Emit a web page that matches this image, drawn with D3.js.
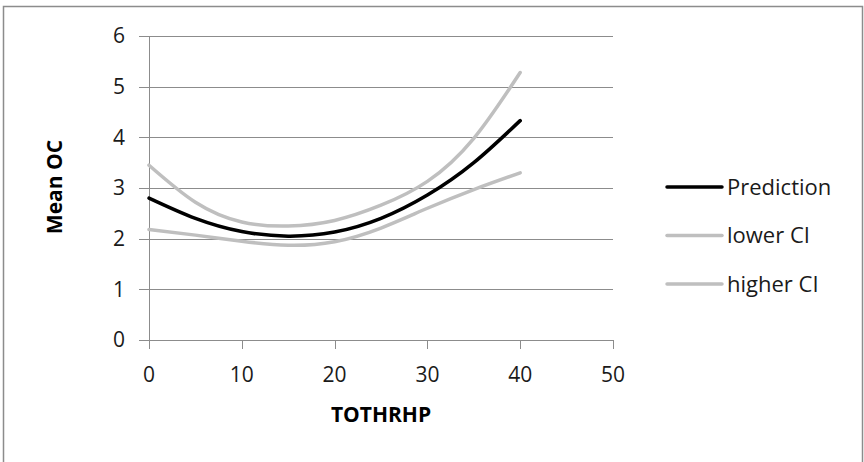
<!DOCTYPE html>
<html>
<head>
<meta charset="utf-8">
<script src="https://cdn.jsdelivr.net/npm/d3@7"></script>
<style>
  html, body { margin: 0; padding: 0; background: #fff; }
  svg { display: block; font-family: "Open Sans", Lato, sans-serif; }
</style>
</head>
<body>
<svg id="chart"></svg>
<script>
// x values (TOTHRHP) at which the curves were read
const xValues = [0, 5, 10, 15, 20, 25, 30, 35, 40];
// series
const prediction = [2.80, 2.40, 2.14, 2.05, 2.13, 2.40, 2.86, 3.50, 4.33];
const lowerCI = [2.18, 2.07, 1.95, 1.87, 1.94, 2.21, 2.60, 2.97, 3.30];
const higherCI = [3.45, 2.72, 2.33, 2.25, 2.36, 2.66, 3.13, 3.98, 5.28];
const seriesNames = ["Prediction", "lower CI", "higher CI"];
const xTicks = [0, 10, 20, 30, 40, 50];
const yTicks = [0, 1, 2, 3, 4, 5, 6];

const svgWidth = 864;
const svgHeight = 462;
const margin = { top: 36, right: 251, bottom: 122, left: 149 };

const series = [
    { name: seriesNames[0], values: prediction, color: "#000000" },
    { name: seriesNames[1], values: lowerCI, color: "#bfbfbf" },
    { name: seriesNames[2], values: higherCI, color: "#bfbfbf" }
];

let svg = d3.select("#chart")
    .attr("width", svgWidth)
    .attr("height", svgHeight);

// outer chart border
svg.append("rect")
    .attr("x", 3.5).attr("y", 6.5)
    .attr("width", 859).attr("height", 470)
    .attr("fill", "#fff")
    .attr("stroke", "#8c8c8c")
    .attr("stroke-width", 1.5);

let scaleX = d3.scaleLinear()
    .domain([0, 50])
    .range([margin.left, svgWidth - margin.right]);

let scaleY = d3.scaleLinear()
    .domain([0, 6])
    .range([svgHeight - margin.bottom, margin.top]);

// horizontal gridlines
svg.append("g")
    .selectAll("line")
    .data(yTicks)
    .enter()
    .append("line")
    .attr("x1", scaleX(0) - 10)
    .attr("x2", scaleX(50))
    .attr("y1", d => Math.round(scaleY(d)) + 0.5)
    .attr("y2", d => Math.round(scaleY(d)) + 0.5)
    .attr("stroke", "#8c8c8c")
    .attr("stroke-width", 1);

// y axis line
svg.append("line")
    .attr("x1", scaleX(0) + 0.5).attr("x2", scaleX(0) + 0.5)
    .attr("y1", scaleY(6)).attr("y2", scaleY(0) + 9)
    .attr("stroke", "#8c8c8c");

// x tick marks
svg.append("g")
    .selectAll("line")
    .data(xTicks)
    .enter()
    .append("line")
    .attr("x1", d => Math.round(scaleX(d)) + 0.5)
    .attr("x2", d => Math.round(scaleX(d)) + 0.5)
    .attr("y1", scaleY(0))
    .attr("y2", scaleY(0) + 9)
    .attr("stroke", "#8c8c8c");

// y tick labels
svg.append("g")
    .selectAll("text")
    .data(yTicks)
    .enter()
    .append("text")
    .attr("x", scaleX(0) - 24)
    .attr("y", d => scaleY(d))
    .attr("dy", "0.35em")
    .attr("text-anchor", "end")
    .attr("font-size", 21)
    .attr("fill", "#1a1a1a")
    .text(d => d);

// x tick labels
svg.append("g")
    .selectAll("text")
    .data(xTicks)
    .enter()
    .append("text")
    .attr("x", d => scaleX(d))
    .attr("y", scaleY(0) + 35)
    .attr("dy", "0.35em")
    .attr("text-anchor", "middle")
    .attr("font-size", 21)
    .attr("fill", "#1a1a1a")
    .text(d => d);

// axis titles
svg.append("text")
    .attr("x", 381)
    .attr("y", 415)
    .attr("dy", "0.35em")
    .attr("text-anchor", "middle")
    .attr("font-size", 21)
    .attr("font-weight", "bold")
    .text("TOTHRHP");

svg.append("text")
    .attr("transform", "translate(55,187) rotate(-90)")
    .attr("dy", "0.35em")
    .attr("text-anchor", "middle")
    .attr("font-size", 21)
    .attr("font-weight", "bold")
    .text("Mean OC");

// curves (smoothed like the original)
let line = d3.line()
    .x((d, i) => scaleX(xValues[i]))
    .y(d => scaleY(d))
    .curve(d3.curveNatural);

// draw grey bands first, prediction on top
svg.append("g")
    .selectAll("path")
    .data(series.slice().reverse())
    .enter()
    .append("path")
    .attr("d", d => line(d.values))
    .attr("fill", "none")
    .attr("stroke", d => d.color)
    .attr("stroke-width", 3.5)
    .attr("stroke-linecap", "round");

// legend
let legend = svg.append("g")
    .selectAll("g")
    .data(series)
    .enter()
    .append("g")
    .attr("transform", (d, i) => "translate(667," + (187 + i * 48.5) + ")");

legend.append("line")
    .attr("x1", 0).attr("x2", 55)
    .attr("stroke", d => d.color)
    .attr("stroke-width", 3.5)
    .attr("stroke-linecap", "round");

legend.append("text")
    .attr("x", 60)
    .attr("dy", "0.35em")
    .attr("font-size", 22)
    .attr("fill", "#1a1a1a")
    .text(d => d.name);
</script>
</body>
</html>
